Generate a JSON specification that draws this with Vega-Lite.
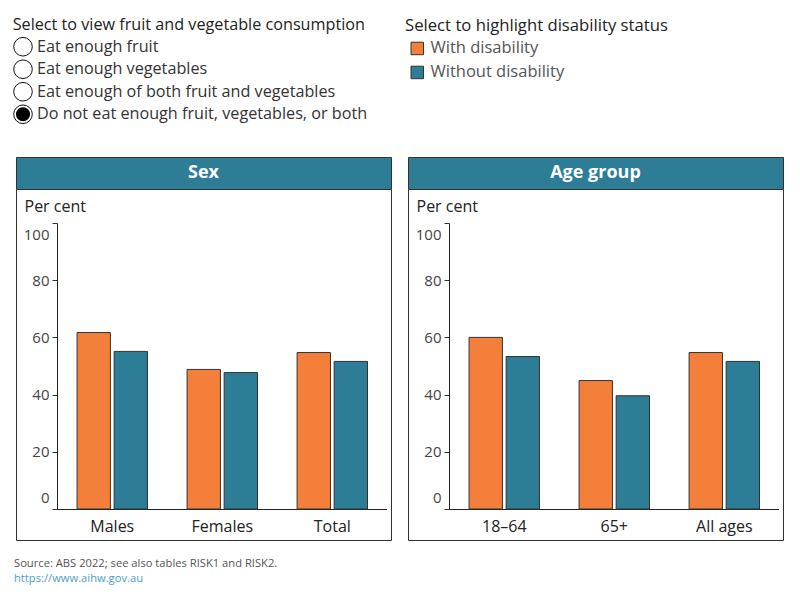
{
  "$schema": "https://vega.github.io/schema/vega-lite/v6.json",
  "background": "white",
  "padding": {"left": 11, "top": 16.5, "right": 5, "bottom": 5},
  "config": {
    "font": "Open Sans",
    "view": {"stroke": null},
    "axisX": {"title": null, "labelAngle": 0, "ticks": false, "tickSize": 0, "offset": -31, "domainColor": "#222222", "labelFontSize": 16, "labelColor": "#222222", "labelPadding": 9},
    "axisY": {
      "titleAngle": 0,
      "titleAlign": "left",
      "titleBaseline": "middle",
      "titleX": -33,
      "titleY": 17,
      "titleFontSize": 16,
      "titleFontWeight": "normal",
      "titleColor": "#222222",
      "offset": -41,
      "grid": false,
      "domainColor": "#222222",
      "tickColor": "#333333",
      "tickSize": 5,
      "labelFontSize": 15,
      "labelColor": "#444444",
      "labelPadding": 3,
      "labelFlush": true,
      "labelFlushOffset": -4
    },
    "legend": {
      "titleFontSize": 16.7,
      "titleFontWeight": "normal",
      "titleColor": "#222222",
      "titleLimit": 400,
      "titlePadding": 6,
      "labelFontSize": 16.5,
      "labelColor": "#555555",
      "labelOffset": 5,
      "labelLimit": 300,
      "symbolType": "square",
      "symbolSize": 156,
      "symbolStrokeColor": "#333333",
      "symbolStrokeWidth": 1,
      "symbolOffset": 4,
      "rowPadding": 7,
      "padding": 0
    }
  },
  "datasets": {
    "bars": [
      {"panel": "Sex", "category": "Males", "status": "With disability", "value": 61.7},
      {"panel": "Sex", "category": "Males", "status": "Without disability", "value": 55.1},
      {"panel": "Sex", "category": "Females", "status": "With disability", "value": 48.8},
      {"panel": "Sex", "category": "Females", "status": "Without disability", "value": 47.7},
      {"panel": "Sex", "category": "Total", "status": "With disability", "value": 54.7},
      {"panel": "Sex", "category": "Total", "status": "Without disability", "value": 51.6},
      {"panel": "Age group", "category": "18–64", "status": "With disability", "value": 60.0},
      {"panel": "Age group", "category": "18–64", "status": "Without disability", "value": 53.3},
      {"panel": "Age group", "category": "65+", "status": "With disability", "value": 44.9},
      {"panel": "Age group", "category": "65+", "status": "Without disability", "value": 39.6},
      {"panel": "Age group", "category": "All ages", "status": "With disability", "value": 54.7},
      {"panel": "Age group", "category": "All ages", "status": "Without disability", "value": 51.6}
    ],
    "options": [
      {"order": 1, "option": "Eat enough fruit", "selected": false},
      {"order": 2, "option": "Eat enough vegetables", "selected": false},
      {"order": 3, "option": "Eat enough of both fruit and vegetables", "selected": false},
      {"order": 4, "option": "Do not eat enough fruit, vegetables, or both", "selected": true}
    ]
  },
  "title": {
    "text": "Source: ABS 2022; see also tables RISK1 and RISK2.",
    "subtitle": "https://www.aihw.gov.au",
    "orient": "bottom",
    "anchor": "start",
    "frame": "group",
    "offset": 17,
    "dx": -2,
    "fontSize": 11.2,
    "fontWeight": "normal",
    "color": "#555555",
    "subtitleFontSize": 11.2,
    "subtitleColor": "#4A9FC8",
    "subtitlePadding": 4
  },
  "bounds": "flush",
  "spacing": 31.5,
  "vconcat": [
    {
      "width": 14,
      "height": 90,
      "data": {"name": "options"},
      "title": {
        "text": "Select to view fruit and vegetable consumption",
        "anchor": "start",
        "dx": 1,
        "offset": 2,
        "fontSize": 16.2,
        "fontWeight": "normal",
        "color": "#222222"
      },
      "encoding": {
        "y": {
          "field": "option",
          "type": "nominal",
          "sort": {"field": "order"},
          "axis": null,
          "scale": {"type": "point", "padding": 0.5}
        }
      },
      "layer": [
        {
          "mark": {"type": "point", "shape": "circle", "size": 346, "filled": true, "fill": "white", "opacity": 1, "stroke": "#111111", "strokeWidth": 1}
        },
        {
          "transform": [{"filter": "datum.selected"}],
          "mark": {"type": "point", "shape": "circle", "size": 200, "filled": true, "opacity": 1, "color": "#000000"}
        },
        {
          "mark": {"type": "text", "align": "left", "dx": 14, "fontSize": 16.2, "color": "#333333"},
          "encoding": {"text": {"field": "option"}}
        }
      ]
    },
    {
      "columns": 2,
      "bounds": "flush",
      "spacing": {"row": 0, "column": 17},
      "concat": [
        {
          "width": 375,
          "height": 32,
          "data": {"values": [{"heading": "Sex"}]},
          "view": {"fill": "#2E7D97", "stroke": "#333333"},
          "mark": {"type": "text", "color": "white", "fontSize": 18, "fontWeight": "bold"},
          "encoding": {"text": {"field": "heading"}}
        },
        {
          "width": 375,
          "height": 32,
          "data": {"values": [{"heading": "Age group"}]},
          "view": {"fill": "#2E7D97", "stroke": "#333333"},
          "mark": {"type": "text", "color": "white", "fontSize": 18, "fontWeight": "bold"},
          "encoding": {"text": {"field": "heading"}}
        },
        {
          "width": 375,
          "height": 351,
          "view": {"fill": "white", "stroke": "#333333"},
          "data": {"name": "bars"},
          "transform": [{"filter": "datum.panel === 'Sex'"}],
          "mark": {"type": "bar", "stroke": "#333333", "strokeWidth": 1},
          "encoding": {
            "x": {
              "field": "category",
              "type": "nominal",
              "sort": ["Males", "Females", "Total"],
              "scale": {"range": [36.5, 370.5], "paddingInner": 0.36, "paddingOuter": 0.198, "align": 0.564}
            },
            "xOffset": {
              "field": "status",
              "sort": ["With disability", "Without disability"],
              "scale": {"paddingInner": 0.1, "paddingOuter": 0}
            },
            "y": {
              "field": "value",
              "type": "quantitative",
              "scale": {"domain": [0, 100], "range": [320, 34]},
              "axis": {"title": "Per cent", "values": [0, 20, 40, 60, 80, 100]}
            },
            "color": {
              "field": "status",
              "type": "nominal",
              "scale": {"domain": ["With disability", "Without disability"], "range": ["#F47F3A", "#2E7D97"]},
              "legend": {"orient": "none", "legendX": 389, "legendY": -18, "title": "Select to highlight disability status"}
            }
          }
        },
        {
          "width": 375,
          "height": 351,
          "view": {"fill": "white", "stroke": "#333333"},
          "data": {"name": "bars"},
          "transform": [{"filter": "datum.panel === 'Age group'"}],
          "mark": {"type": "bar", "stroke": "#333333", "strokeWidth": 1},
          "encoding": {
            "x": {
              "field": "category",
              "type": "nominal",
              "sort": ["18–64", "65+", "All ages"],
              "scale": {"range": [36.5, 370.5], "paddingInner": 0.36, "paddingOuter": 0.198, "align": 0.564}
            },
            "xOffset": {
              "field": "status",
              "sort": ["With disability", "Without disability"],
              "scale": {"paddingInner": 0.1, "paddingOuter": 0}
            },
            "y": {
              "field": "value",
              "type": "quantitative",
              "scale": {"domain": [0, 100], "range": [320, 34]},
              "axis": {"title": "Per cent", "values": [0, 20, 40, 60, 80, 100]}
            },
            "color": {
              "field": "status",
              "type": "nominal",
              "scale": {"domain": ["With disability", "Without disability"], "range": ["#F47F3A", "#2E7D97"]},
              "legend": {"orient": "none", "legendX": 389, "legendY": -18, "title": "Select to highlight disability status"}
            }
          }
        }
      ]
    }
  ]
}
